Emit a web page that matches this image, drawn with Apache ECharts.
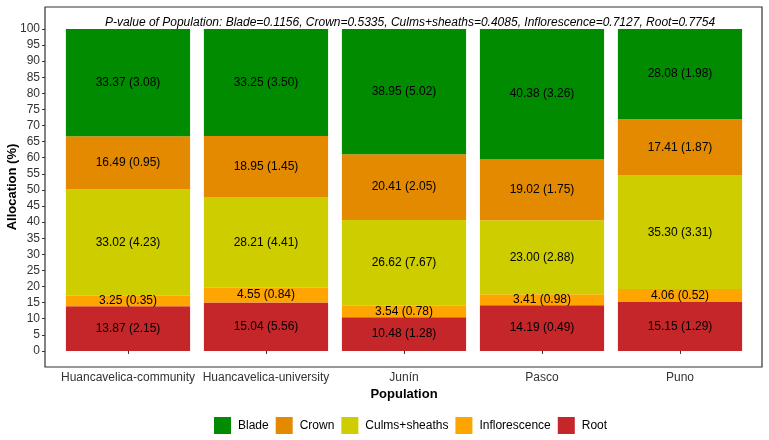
<!DOCTYPE html>
<html>
<head>
<meta charset="utf-8">
<script src="https://cdn.jsdelivr.net/npm/echarts@6/dist/echarts.min.js"></script>
<style>
  html, body { margin: 0; padding: 0; background: #fff; }
  #main { width: 769px; height: 440px; }
</style>
</head>
<body>
<div id="main"></div>
<script>
// populations and organ shares (mean and SE, %)
var populations = ['Huancavelica-community', 'Huancavelica-university', 'Junín', 'Pasco', 'Puno'];
var organs = ['Root', 'Inflorescence', 'Culms+sheaths', 'Crown', 'Blade'];
var colors = ['#C4262A', '#FFA500', '#CDCD00', '#E38A00', '#008B00'];
var yTicks = [0, 5, 10, 15, 20, 25, 30, 35, 40, 45, 50, 55, 60, 65, 70, 75, 80, 85, 90, 95, 100];

var rootMean = [13.87, 15.04, 10.48, 14.19, 15.15];
var rootSe = [2.15, 5.56, 1.28, 0.49, 1.29];
var inflMean = [3.25, 4.55, 3.54, 3.41, 4.06];
var inflSe = [0.35, 0.84, 0.78, 0.98, 0.52];
var culmMean = [33.02, 28.21, 26.62, 23.00, 35.30];
var culmSe = [4.23, 4.41, 7.67, 2.88, 3.31];
var crownMean = [16.49, 18.95, 20.41, 19.02, 17.41];
var crownSe = [0.95, 1.45, 2.05, 1.75, 1.87];
var bladeMean = [33.37, 33.25, 38.95, 40.38, 28.08];
var bladeSe = [3.08, 3.50, 5.02, 3.26, 1.98];

var titleText = 'P-value of Population: Blade=0.1156, Crown=0.5335, Culms+sheaths=0.4085, Inflorescence=0.7127, Root=0.7754';

var means = [rootMean, inflMean, culmMean, crownMean, bladeMean];
var ses = [rootSe, inflSe, culmSe, crownSe, bladeSe];

var myChart = echarts.init(document.getElementById('main'));

var series = [];
for (var k = 0; k < organs.length; k++) {
    (function (k) {
        series.push({
            name: organs[k],
            type: 'bar',
            stack: 'total',
            xAxisIndex: 1,
            yAxisIndex: 1,
            barWidth: '90%',
            data: means[k],
            itemStyle: { color: colors[k] },
            label: {
                show: true,
                position: 'inside',
                color: '#000',
                fontSize: 12,
                fontFamily: 'Liberation Sans',
                formatter: function (p) {
                    return p.value.toFixed(2) + ' (' + ses[k][p.dataIndex].toFixed(2) + ')';
                }
            }
        });
    })(k);
}

var option = {
    animation: false,
    textStyle: { fontFamily: 'Liberation Sans' },
    title: {
        text: titleText,
        left: 405,
        top: 12,
        textAlign: 'center',
        textStyle: { fontSize: 12, fontStyle: 'italic', fontWeight: 'normal', color: '#000' }
    },
    legend: {
        data: ['Blade', 'Crown', 'Culms+sheaths', 'Inflorescence', 'Root'],
        left: 214,
        top: 417,
        padding: 0,
        itemWidth: 17,
        itemHeight: 17,
        itemGap: 7,
        icon: 'rect',
        textStyle: { fontSize: 12, color: '#000', padding: [0, 0, 0, 2] }
    },
    grid: [
        // panel: border + y scale
        { left: 45, right: 7, top: 7, bottom: 73, outerBoundsMode: 'none', containLabel: false,
          show: true, borderColor: '#333', borderWidth: 1.2, backgroundColor: 'transparent' },
        // bars: panel minus discrete expansion
        { left: 59, right: 20, top: 7, bottom: 73, outerBoundsMode: 'none', containLabel: false }
    ],
    xAxis: [{
        gridIndex: 0,
        type: 'value',
        show: false
    }, {
        gridIndex: 1,
        type: 'category',
        data: populations,
        name: 'Population',
        nameLocation: 'middle',
        nameGap: 21,
        nameMoveOverlap: false,
        nameTextStyle: { fontWeight: 'bold', fontSize: 13, color: '#000' },
        axisLine: { show: false },
        axisTick: { show: true, alignWithLabel: true, length: 3, lineStyle: { color: '#333' } },
        axisLabel: { fontSize: 12, color: '#333', margin: 5, interval: 0 }
    }],
    yAxis: [{
        gridIndex: 0,
        type: 'value',
        min: -5,
        max: 106.8,
        name: 'Allocation (%)',
        nameLocation: 'middle',
        nameGap: 26,
        nameMoveOverlap: false,
        nameTextStyle: { fontWeight: 'bold', fontSize: 13, color: '#000' },
        axisLine: { show: false },
        axisTick: { show: true, length: 3, customValues: yTicks, lineStyle: { color: '#333' } },
        splitLine: { show: false },
        axisLabel: { fontSize: 12, color: '#333', margin: 5, customValues: yTicks }
    }, {
        gridIndex: 1,
        type: 'value',
        min: -5,
        max: 106.8,
        show: false,
        splitLine: { show: false }
    }],
    series: series
};

myChart.setOption(option);
</script>
</body>
</html>
